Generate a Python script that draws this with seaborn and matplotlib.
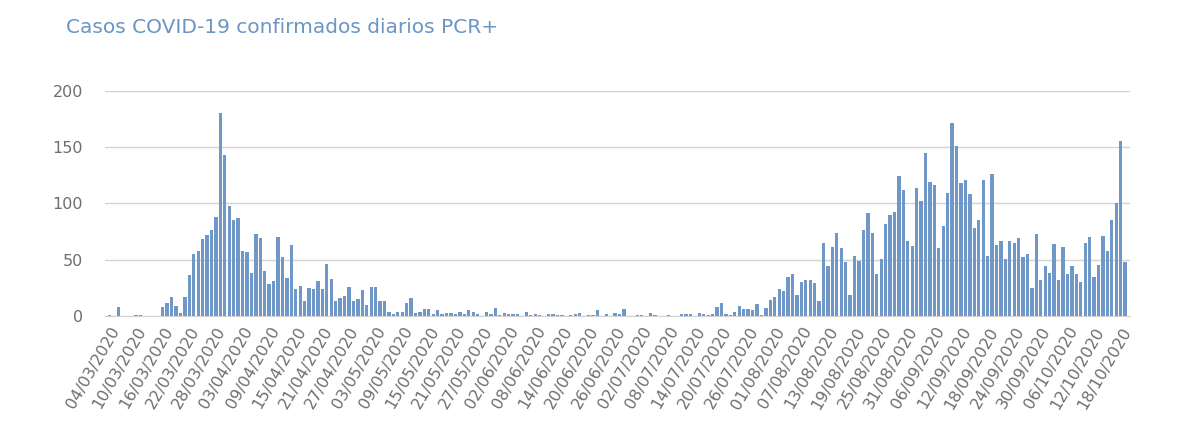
import pandas as pd
import matplotlib
matplotlib.use("Agg")
import matplotlib.pyplot as plt
import seaborn as sns

start_date = "2020-03-04"
n_days = 230

# daily confirmed cases
cases = [
    1, 0, 8, 0, 0, 0, 1, 1, 0, 0, 0, 0,
    8, 12, 17, 9, 3, 17, 36, 55, 58, 68, 72, 76, 88, 180, 143, 98, 85, 87, 58, 57,
    38, 73, 69, 40, 28, 31, 70, 52, 34, 63, 24, 27,
    13, 25, 24, 31, 24, 46, 33, 13, 16, 18, 26, 13, 15, 23, 10, 26, 26, 13, 13, 4,
    2, 4, 4, 12, 16, 3, 4, 6, 6, 2, 5, 2, 3, 3, 2, 4, 2, 5, 4, 2,
    0, 4, 2, 7, 1, 3, 2, 2, 2, 0, 4, 1, 2, 1,
    0, 2, 2, 1, 1, 0, 1, 2, 3, 0, 1, 1, 5, 0, 2, 0, 3, 2, 6, 0, 0, 1, 1, 0, 3, 1,
    0, 0, 1, 0, 0, 2, 2, 2, 0, 3, 2, 1, 2, 8, 12, 2, 1, 4, 9, 6, 6, 5, 11, 1, 7, 14,
    17, 24, 22, 35, 37, 19, 30, 32, 32, 29, 13, 65, 44, 61, 74, 60, 48, 19, 53, 49,
    76, 91, 74, 37, 51, 82, 90, 92, 124, 112, 67, 62, 114, 102, 145, 119, 116, 60, 80,
    109, 171, 151, 118, 121, 108, 78, 85, 121, 53, 126, 63, 67, 51, 67, 65, 69, 52, 55, 25,
    73, 32, 44, 38, 64, 32, 61, 37, 44, 37, 30, 65, 70, 35, 45, 71, 58, 85, 100, 155, 48,
]

dates = pd.date_range(start_date, periods=n_days, freq="D").strftime("%d/%m/%Y")
df = pd.DataFrame({"fecha": dates, "casos": cases})

sns.set_style("white")
fig = plt.figure(figsize=(11.94, 4.42), dpi=100)
ax = fig.add_axes([0.088, 0.285, 0.858, 0.51])

sns.barplot(data=df, x="fecha", y="casos", color="#6f98c8", saturation=1,
            width=0.75, linewidth=0, ax=ax)

ax.set_ylim(0, 200)
ax.set_xlim(-1, n_days)
ax.set_yticks([0, 50, 100, 150, 200])
ax.yaxis.grid(True, color="#d3d3d3", linewidth=1)
ax.set_axisbelow(True)
ax.set_xticks(range(0, n_days, 6))
ax.set_xticklabels(dates[::6], rotation=60, ha="right", rotation_mode="anchor")
ax.tick_params(axis="both", labelsize=11.5, colors="#6e6e6e", length=0)
ax.tick_params(axis="y", pad=16)
ax.tick_params(axis="x", pad=6)
ax.set_xlabel("")
ax.set_ylabel("")
for side in ["top", "right", "left"]:
    ax.spines[side].set_visible(False)
ax.spines["bottom"].set_color("#d3d3d3")

fig.text(0.055, 0.925, "Casos COVID-19 confirmados diarios PCR+",
         fontsize=14.5, color="#6a95c4")

fig.savefig("out.png", dpi=100)
